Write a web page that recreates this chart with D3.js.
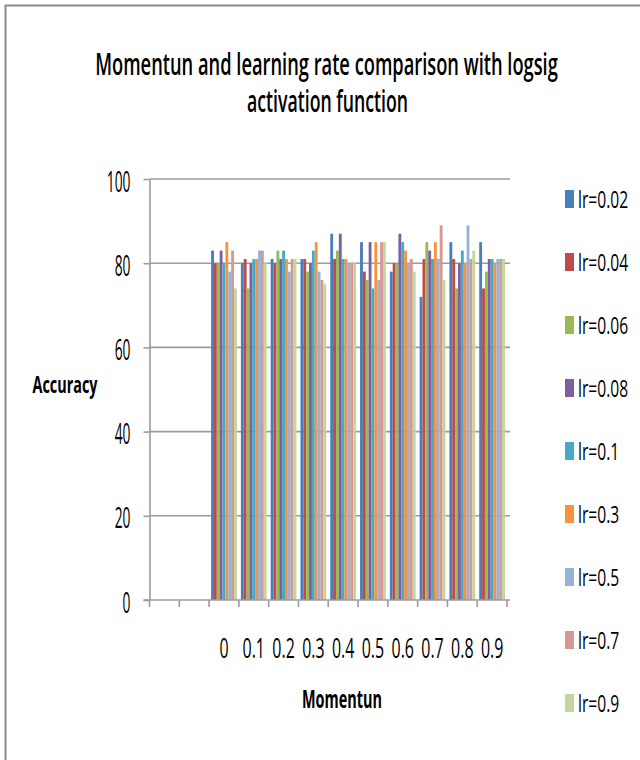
<!DOCTYPE html>
<html>
<head>
<meta charset="utf-8">
<script src="https://cdn.jsdelivr.net/npm/d3@7"></script>
<style>
  body { margin: 0; background: #fff; }
  svg { display: block; }
  text { font-family: "Open Sans", "DejaVu Sans", sans-serif; fill: #000; }
</style>
</head>
<body>
<svg id="chart" width="640" height="760"></svg>
<script>
// Momentum values on the category axis (two empty slots come first)
const leadingSlots = ["pad1", "pad2"];
const momentum = ["0", "0.1", "0.2", "0.3", "0.4", "0.5", "0.6", "0.7", "0.8", "0.9"];

// Accuracy per momentum value, one array per learning rate
const lr002 = [83, 80, 81, 81, 87, 85, 78, 72, 85, 85];
const lr004 = [80, 81, 80, 81, 81, 78, 80, 81, 81, 74];
const lr006 = [80, 74, 83, 78, 83, 76, 80, 85, 74, 78];
const lr008 = [83, 80, 81, 80, 87, 85, 87, 83, 80, 81];
const lr01  = [80, 81, 83, 83, 81, 74, 85, 81, 83, 81];
const lr03  = [85, 81, 81, 85, 81, 85, 83, 85, 80, 80];
const lr05  = [78, 83, 78, 78, 80, 76, 80, 81, 89, 81];
const lr07  = [83, 83, 81, 76, 80, 85, 81, 89, 81, 81];
const lr09  = [74, 80, 81, 75, 80, 85, 78, 76, 83, 81];

const seriesNames = ["lr=0.02", "lr=0.04", "lr=0.06", "lr=0.08", "lr=0.1", "lr=0.3", "lr=0.5", "lr=0.7", "lr=0.9"];
const seriesValues = [lr002, lr004, lr006, lr008, lr01, lr03, lr05, lr07, lr09];
const seriesColors = ["#4a7ebb", "#be4b48", "#98b954", "#7d60a0", "#46aac5", "#f69240", "#95b3d7", "#d99694", "#c3d69b"];

const yTicks = [0, 20, 40, 60, 80, 100];

const titleLines = ["Momentun and learning rate comparison with logsig", "activation function"];
const xTitle = "Momentun";
const yTitle = "Accuracy";

// ---- layout ----
const svg = d3.select("#chart");
const plot = { left: 149.5, right: 507, top: 179, bottom: 600 };

// narrow a text horizontally around its anchor point by factor k
function condense(sel, k) {
  sel.each(function () {
    const t = d3.select(this);
    const x = +t.attr("x") || 0;
    const y = +t.attr("y") || 0;
    t.attr("x", 0).attr("y", 0)
     .attr("transform", `translate(${x},${y}) scale(${k},1)`);
  });
}
// narrow a text so that it spans w pixels
function fitWidth(sel, w) {
  sel.each(function () {
    const k = w / this.getComputedTextLength();
    condense(d3.select(this), k);
  });
}

// outer frame
svg.append("rect")
  .attr("x", 5.5).attr("y", 5.5)
  .attr("width", 700).attr("height", 800)
  .attr("fill", "none").attr("stroke", "#8a8a8a").attr("stroke-width", 2);

// scales
const x0 = d3.scaleBand()
  .domain(leadingSlots.concat(momentum))
  .range([plot.left, plot.right])
  .padding(0);

const x1 = d3.scaleBand()
  .domain(seriesNames)
  .range([0, x0.bandwidth()])
  .paddingInner(0)
  .paddingOuter(0.7);

const y = d3.scaleLinear().domain([0, 100]).range([plot.bottom, plot.top]);

// gridlines
svg.append("g")
  .selectAll("line")
  .data(yTicks.filter(d => d > 0))
  .join("line")
  .attr("x1", plot.left).attr("x2", plot.right + 3)
  .attr("y1", d => y(d)).attr("y2", d => y(d))
  .attr("stroke", "#9c9c9c").attr("stroke-width", 1.6);

// bars
const groups = svg.append("g")
  .selectAll("g")
  .data(momentum)
  .join("g")
  .attr("transform", d => `translate(${x0(d)},0)`);

groups.selectAll("rect")
  .data((m, i) => seriesNames.map((s, j) => ({ s, v: seriesValues[j][i], c: seriesColors[j] })))
  .join("rect")
  .attr("x", d => x1(d.s))
  .attr("width", x1.bandwidth())
  .attr("y", d => y(d.v))
  .attr("height", d => y(0) - y(d.v))
  .attr("fill", d => d.c);

// y axis
const yAxis = svg.append("g")
  .attr("transform", `translate(${plot.left},0)`)
  .call(d3.axisLeft(y).tickValues(yTicks).tickSize(6).tickPadding(13).tickSizeOuter(0));
yAxis.select(".domain").attr("stroke", "#9c9c9c").attr("stroke-width", 1.6);
yAxis.selectAll(".tick line").attr("stroke", "#9c9c9c").attr("stroke-width", 1.6);
yAxis.selectAll(".tick text")
  .attr("font-size", 30).attr("font-family", "Open Sans").attr("dy", "0.4em").attr("fill", "#000");
condense(yAxis.selectAll(".tick text"), 0.46);

// x axis: labels under the categories, ticks at the category boundaries
const xAxis = svg.append("g")
  .attr("transform", `translate(0,${plot.bottom})`)
  .call(d3.axisBottom(x0).tickSize(0).tickPadding(0).tickSizeOuter(0)
    .tickFormat(d => leadingSlots.includes(d) ? "" : d));
xAxis.select(".domain").remove();
xAxis.selectAll(".tick text")
  .attr("font-size", 28).attr("font-family", "Open Sans").attr("y", 58).attr("dy", 0).attr("fill", "#000");
condense(xAxis.selectAll(".tick text"), 0.57);

const boundaries = x0.domain().map(d => x0(d)).concat([plot.right]);
svg.append("line")
  .attr("x1", plot.left - 6).attr("x2", plot.right + 3)
  .attr("y1", plot.bottom).attr("y2", plot.bottom)
  .attr("stroke", "#9c9c9c").attr("stroke-width", 1.6);
svg.append("g")
  .selectAll("line")
  .data(boundaries)
  .join("line")
  .attr("x1", d => d).attr("x2", d => d)
  .attr("y1", plot.bottom).attr("y2", plot.bottom + 7)
  .attr("stroke", "#9c9c9c").attr("stroke-width", 1.6);

// title
svg.append("text")
  .attr("x", 326.5).attr("y", 75)
  .attr("text-anchor", "middle")
  .attr("font-size", 30).attr("font-weight", 600)
  .text(titleLines[0])
  .call(fitWidth, 463);
svg.append("text")
  .attr("x", 327.5).attr("y", 112)
  .attr("text-anchor", "middle")
  .attr("font-size", 30).attr("font-weight", 600)
  .text(titleLines[1])
  .call(fitWidth, 161);

// axis titles
svg.append("text")
  .attr("x", 342).attr("y", 708)
  .attr("text-anchor", "middle")
  .attr("font-size", 25).attr("font-weight", 700)
  .text(xTitle)
  .call(fitWidth, 80);
svg.append("text")
  .attr("x", 65).attr("y", 393)
  .attr("text-anchor", "middle")
  .attr("font-size", 24).attr("font-weight", 700)
  .text(yTitle)
  .call(fitWidth, 65);

// legend
const legend = svg.append("g");
const legendRow = d3.scaleLinear().domain([0, seriesNames.length - 1]).range([208, 712]);
const items = legend.selectAll("g")
  .data(seriesNames)
  .join("g")
  .attr("transform", (d, i) => `translate(565,${legendRow(i)})`);
items.append("rect")
  .attr("x", 0).attr("y", -18)
  .attr("width", 9).attr("height", 18)
  .attr("fill", (d, i) => seriesColors[i]);
items.append("text")
  .attr("x", 13).attr("y", 0)
  .attr("font-size", 23)
  .text(d => d);
condense(items.selectAll("text"), 0.68);
</script>
</body>
</html>
